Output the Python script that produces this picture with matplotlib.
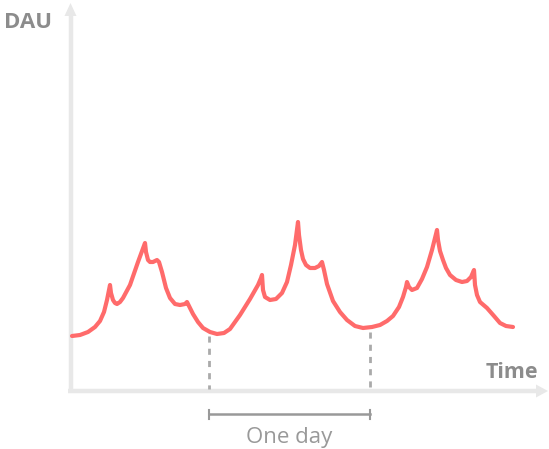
import matplotlib.pyplot as plt
from matplotlib.patches import Polygon

# curve (pixel-like units, y grows downward)
time_x = [72, 80, 88, 95, 100, 104, 107, 109, 110, 111, 113, 115, 117, 120, 123, 130, 138, 145, 146,
          148, 150, 153, 157, 159, 162, 166, 170, 175, 180, 185, 187, 189, 193, 198, 203, 210, 217,
          224, 230, 240, 250, 258, 261, 262, 263, 265, 270, 276, 282, 287, 291, 295, 298, 299, 301,
          303, 306, 310, 315, 319, 322, 324, 327, 333, 340, 347, 355, 363, 372, 380, 387, 393, 399,
          403, 406, 407, 409, 412, 417, 422, 427, 432, 437, 438, 440, 443, 446, 450, 456, 462, 467,
          471, 474, 475, 477, 480, 487, 494, 500, 506, 513]
dau_y = [336, 335, 332, 327, 321, 312, 300, 290, 285, 293, 300, 303, 304, 302, 298, 285, 262, 243, 252,
         260, 262, 262, 260, 262, 272, 288, 298, 304, 305, 304, 302, 306, 314, 322, 328, 332, 334,
         333, 329, 315, 299, 285, 278, 275, 290, 297, 300, 299, 293, 282, 265, 245, 222, 235, 250,
         259, 265, 268, 268, 266, 262, 270, 284, 301, 312, 320, 326, 328, 327, 325, 321, 316, 307,
         297, 287, 282, 287, 290, 288, 279, 267, 250, 230, 240, 251, 260, 268, 275, 280, 282, 281,
         277, 270, 285, 295, 302, 308, 316, 323, 326, 327]

day_marks = [209, 370]
day_mark_top = [336, 332]
axis_x = 70.5
axis_y = 391

axis_col = '#e8e8e8'
text_col = '#8c8c8c'

fig = plt.figure(figsize=(5.49, 4.49), dpi=100)
ax = fig.add_axes([0, 0, 1, 1])
ax.set_xlim(0, 549)
ax.set_ylim(449, 0)
ax.axis('off')

# axes with arrow heads
ax.plot([axis_x, axis_x], [393, 14], color=axis_col, lw=3.2, solid_capstyle='butt')
ax.plot([68, 538], [axis_y, axis_y], color=axis_col, lw=3.2, solid_capstyle='butt')
ax.add_patch(Polygon([[axis_x - 6, 16], [axis_x + 6, 16], [axis_x, 3]], closed=True, color=axis_col, lw=0))
ax.add_patch(Polygon([[536, axis_y - 6.5], [536, axis_y + 6.5], [548, axis_y]], closed=True, color=axis_col, lw=0))

ax.text(4, 22, 'DAU', fontfamily='Open Sans', fontweight='bold', fontsize=16,
        color=text_col, va='center', ha='left')
ax.text(538, 372, 'Time', fontfamily='Open Sans', fontweight='bold', fontsize=15.5,
        color=text_col, va='center', ha='right')

# day markers
for x, top in zip(day_marks, day_mark_top):
    ax.plot([x, x], [top, axis_y - 2], color='#aaaaaa', lw=2, ls=(0, (2.2, 2.2)))

ax.plot(day_marks, [414, 414], color='#999999', lw=1.8)
for x in day_marks:
    ax.plot([x, x], [409.5, 418.5], color='#999999', lw=1.5)
ax.text(sum(day_marks) / 2, 437, 'One day', fontfamily='Open Sans', fontsize=16,
        color='#999999', va='center', ha='center')

ax.plot(time_x, dau_y, color='#ff6b6b', lw=3, solid_joinstyle='round', solid_capstyle='round')

fig.savefig('out.png', dpi=100)
